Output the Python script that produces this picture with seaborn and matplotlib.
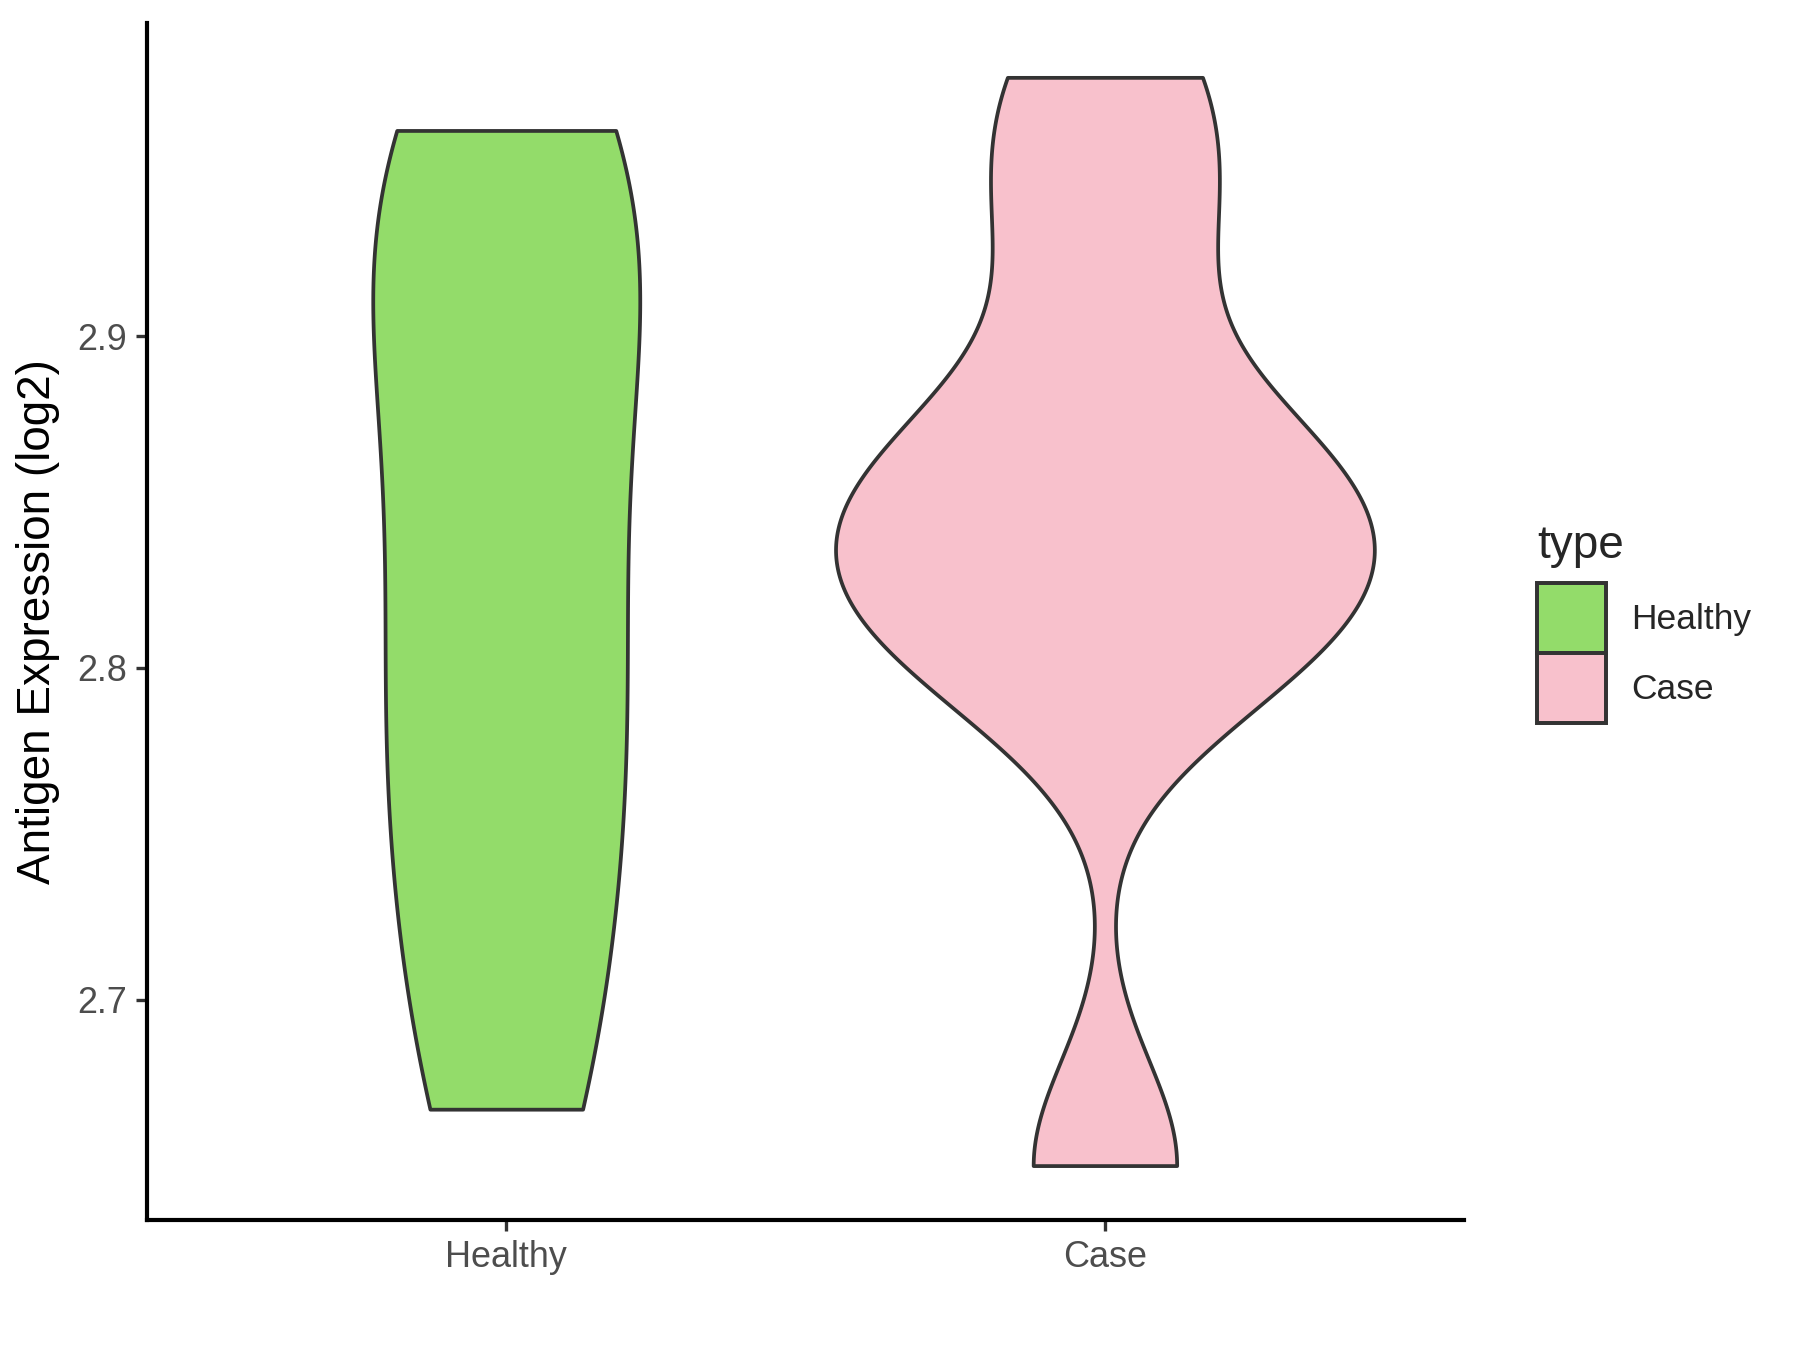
import numpy as np
import pandas as pd
import matplotlib
matplotlib.use("Agg")
import matplotlib.pyplot as plt
import seaborn as sns
from matplotlib.patches import Patch

# ---- data ----
categories = ["Healthy", "Case"]
healthy_values = [2.667, 2.73, 2.78, 2.83, 2.89, 2.935, 2.962]
case_values = [2.650, 2.80, 2.815, 2.835, 2.855, 2.87, 2.932, 2.978]
y_ticks = [2.7, 2.8, 2.9]
colors = {"Healthy": "#93DC6A", "Case": "#F8C1CC"}

# kernel bandwidths (in data units) and max violin widths
bandwidths = {"Healthy": 0.055, "Case": 0.032}
widths = {"Healthy": 0.446, "Case": 0.9}

sns.set_style("white")
plt.rcParams["font.family"] = ["Liberation Sans", "DejaVu Sans"]

df = pd.DataFrame({
    "type": ["Healthy"] * len(healthy_values) + ["Case"] * len(case_values),
    "value": healthy_values + case_values,
})

fig = plt.figure(figsize=(12, 9), dpi=150)
ax = fig.add_axes([0.0817, 0.0963, 0.7317, 0.8867])

for cat in categories:
    sub = df[df["type"] == cat]
    factor = bandwidths[cat] / sub["value"].std(ddof=1)
    sns.violinplot(data=sub, x="type", y="value", order=categories,
                   color=colors[cat], saturation=1, cut=0, bw_method=factor,
                   inner=None, width=widths[cat], linewidth=1.8,
                   linecolor="#333333", density_norm="area", gridsize=400,
                   ax=ax)

vmin, vmax = df["value"].min(), df["value"].max()
rng = vmax - vmin
ax.set_ylim(vmin - 0.05 * rng, vmax + 0.05 * rng)
ax.set_xlim(-0.6, 1.6)
ax.set_yticks(y_ticks)
ax.set_yticklabels([f"{t:.1f}" for t in y_ticks])

ax.set_xlabel("")
ax.set_ylabel("Antigen Expression (log2)", fontsize=22, color="black")
ax.yaxis.set_label_coords(-0.066, 0.5)

for s in ["top", "right"]:
    ax.spines[s].set_visible(False)
for s in ["left", "bottom"]:
    ax.spines[s].set_color("black")
    ax.spines[s].set_linewidth(2.0)

ax.tick_params(axis="both", bottom=True, left=True, length=5.5, width=1.6,
               color="#333333", labelsize=17.3, labelcolor="#4D4D4D", pad=4)

handles = [Patch(facecolor=colors[c], edgecolor="#333333", linewidth=1.9, label=c)
           for c in categories]
leg = ax.legend(handles=handles, title="type", loc="upper left",
                bbox_to_anchor=(0.8539, 0.6119), bbox_transform=fig.transFigure,
                frameon=False, fontsize=17, title_fontsize=22,
                handlelength=1.95, handleheight=2.665, labelspacing=0,
                handletextpad=0.72, borderpad=0, borderaxespad=0,
                alignment="left")
leg._legend_box.sep = 7.2  # space between legend title and keys (points)

fig.savefig("out.png", dpi=150, facecolor="white")
